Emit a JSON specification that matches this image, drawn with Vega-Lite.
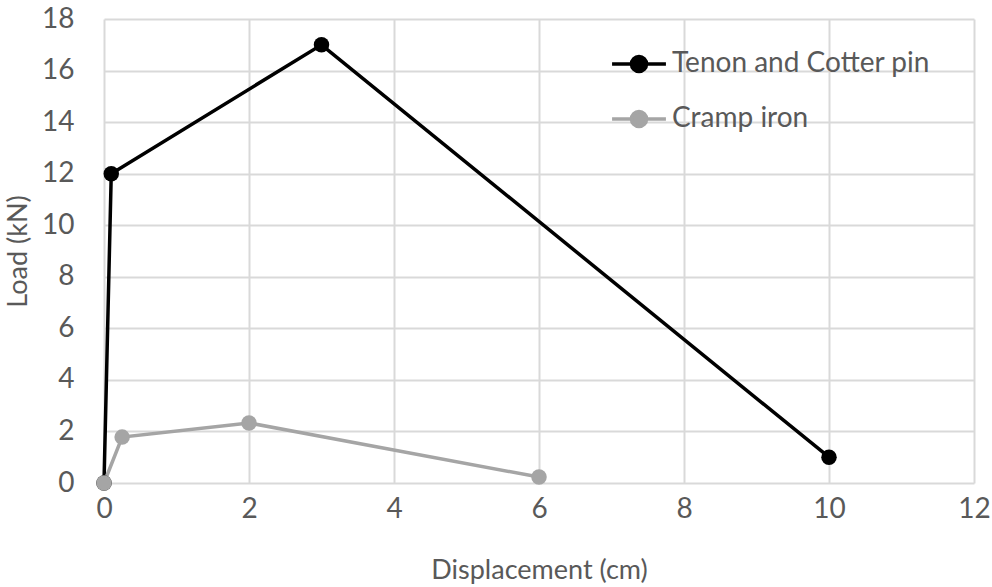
{
  "$schema": "https://vega.github.io/schema/vega-lite/v6.json",
  "width": 870,
  "height": 464,
  "autosize": {"type": "none"},
  "padding": {"left": 104, "top": 19, "right": 18, "bottom": 104},
  "background": "white",
  "config": {
    "font": "Lato",
    "view": {"stroke": null},
    "axis": {
      "labelFont": "Lato",
      "titleFont": "Lato",
      "labelFontSize": 28,
      "titleFontSize": 27,
      "labelColor": "#595959",
      "titleColor": "#595959",
      "titleFontWeight": "normal",
      "gridColor": "#d9d9d9",
      "gridWidth": 2,
      "domain": false,
      "ticks": false
    }
  },
  "data": {
    "values": [
      {"series": "Tenon and Cotter pin", "x": 0, "y": 0},
      {"series": "Tenon and Cotter pin", "x": 0.1, "y": 12},
      {"series": "Tenon and Cotter pin", "x": 3, "y": 17},
      {"series": "Tenon and Cotter pin", "x": 10, "y": 1},
      {"series": "Cramp iron", "x": 0, "y": 0},
      {"series": "Cramp iron", "x": 0.25, "y": 1.78},
      {"series": "Cramp iron", "x": 2, "y": 2.33},
      {"series": "Cramp iron", "x": 6, "y": 0.23}
    ]
  },
  "mark": {"type": "line", "strokeWidth": 3.5, "point": {"size": 240, "filled": true, "opacity": 1}},
  "encoding": {
    "x": {
      "field": "x", "type": "quantitative",
      "scale": {"domain": [0, 12], "nice": false},
      "axis": {"values": [0, 2, 4, 6, 8, 10, 12], "title": "Displacement (cm)", "labelPadding": 12, "titlePadding": 34, "labelFlush": false}
    },
    "y": {
      "field": "y", "type": "quantitative",
      "scale": {"domain": [0, 18], "nice": false},
      "axis": {"values": [0, 2, 4, 6, 8, 10, 12, 14, 16, 18], "title": "Load (kN)", "labelPadding": 30, "titlePadding": 9, "labelFlush": false}
    },
    "color": {
      "field": "series", "type": "nominal",
      "scale": {"domain": ["Tenon and Cotter pin", "Cramp iron"], "range": ["#000000", "#a5a5a5"]},
      "legend": {
        "title": null,
        "orient": "none",
        "legendX": 506,
        "legendY": 16,
        "labelFont": "Lato",
        "labelFontSize": 28,
        "labelColor": "#595959",
        "labelLimit": 0,
        "symbolType": "M-1,0H-0.28M0.28,0H1M0.28,0A0.28,0.28 0 1,1 -0.28,0A0.28,0.28 0 1,1 0.28,0Z",
        "symbolSize": 2900,
        "symbolStrokeWidth": 3.5,
        "rowPadding": 11,
        "labelOffset": 4
      }
    },
    "order": {"field": "x", "type": "quantitative"}
  }
}
